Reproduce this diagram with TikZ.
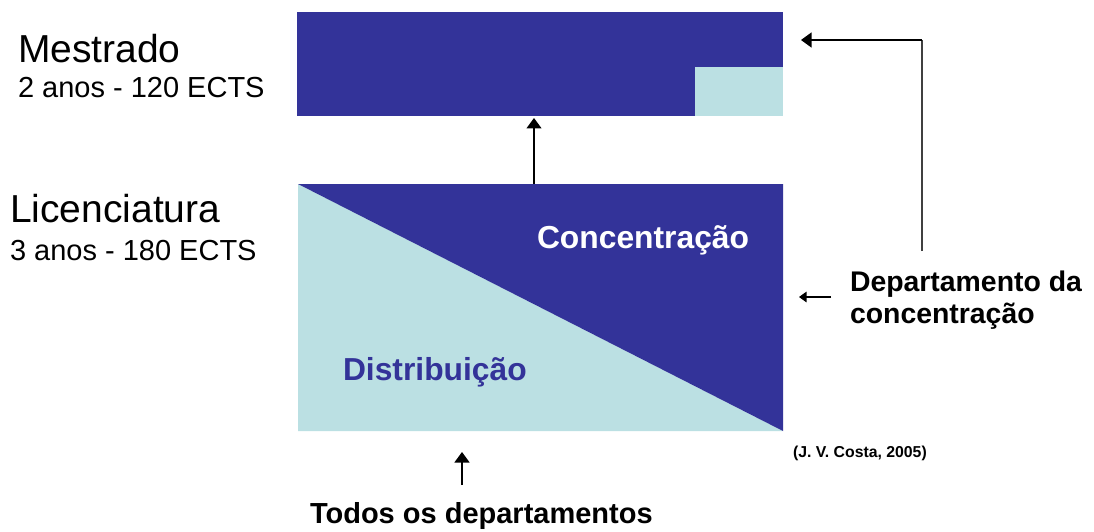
\documentclass[tikz,border=0pt]{standalone}
\usepackage{fontspec}
\setmainfont{Liberation Sans}
\usetikzlibrary{arrows.meta,calc}
\definecolor{dkblue}{RGB}{51,51,153}
\definecolor{ltblue}{RGB}{187,224,227}
\tikzset{
  block/.style={rectangle,inner sep=0pt,outer sep=0pt,anchor=north west},
  lbl/.style={inner sep=0pt,outer sep=0pt,anchor=base west,align=left},
  arrbig/.style={line width=1.4pt,-{Triangle[length=10.5pt,width=15pt]}},
  arrsmall/.style={line width=1.3pt,-{Triangle[length=7.5pt,width=10.5pt]}},
}
\begin{document}
\begin{tikzpicture}[x=1pt,y=-1pt]
\useasboundingbox (0,0) rectangle (1094,532);
% Mestrado box
\node[block,fill=dkblue,minimum width=486pt,minimum height=104pt] (mest) at (297,12) {};
\node[block,fill=ltblue,minimum width=88pt,minimum height=49pt] (mestsq) at (695,67) {};
% Licenciatura box
\node[block,minimum width=485pt,minimum height=247pt] (lic) at (298,184) {};
\fill[ltblue] (lic.north west) -- (lic.south east) -- (lic.south west) -- cycle;
\fill[dkblue] (lic.north west) -- (lic.north east) -- (lic.south east) -- cycle;
% left labels
\node[lbl,font=\fontsize{39}{44}\selectfont] (mt) at (18,63) {Mestrado};
\node[lbl,font=\fontsize{29}{34}\selectfont] (ms) at (18,98) {2 anos - 120 ECTS};
\node[lbl,font=\fontsize{39}{44}\selectfont] (lt) at (10,222) {Licenciatura};
\node[lbl,font=\fontsize{29}{34}\selectfont] (ls) at (10,260) {3 anos - 180 ECTS};
% inner labels
\node[lbl,font=\bfseries\fontsize{31.8}{36}\selectfont,text=white] (conc) at (537,248) {Concentração};
\node[lbl,font=\bfseries\fontsize{31.8}{36}\selectfont,text=dkblue] (dist) at (343,380) {Distribuição};
% right labels
\node[lbl,font=\bfseries\fontsize{28.4}{32}\selectfont] (dep1) at (850,291) {Departamento da};
\node[lbl,font=\bfseries\fontsize{28.4}{32}\selectfont] (dep2) at (850,323) {concentração};
\node[lbl,font=\bfseries\fontsize{15.8}{19}\selectfont] (cite) at (793,457) {(J. V. Costa, 2005)};
\node[lbl,font=\bfseries\fontsize{29}{34}\selectfont] (todos) at (310,523) {Todos os departamentos};
% connectors
\coordinate (ax) at (534,0);
\draw[arrbig,shorten >=2pt] (lic.north -| ax) -- (mest.south -| ax);
\coordinate (rtop) at (922,40);
\coordinate (rbot) at (922,251);
\draw[line width=1.2pt,draw=black!75] (rbot) -- (rtop);
\draw[arrbig,line width=1.2pt] (rtop) -- ($(mest.east |- rtop)+(18,0)$);
\coordinate (dstart) at (831,297);
\draw[arrsmall] (dstart) -- ($(lic.east |- dstart)+(16,0)$);
\coordinate (tstart) at (462,485);
\draw[arrbig,line width=1.3pt] (tstart) -- ($(lic.south -| tstart)+(0,21)$);
\end{tikzpicture}
\end{document}
